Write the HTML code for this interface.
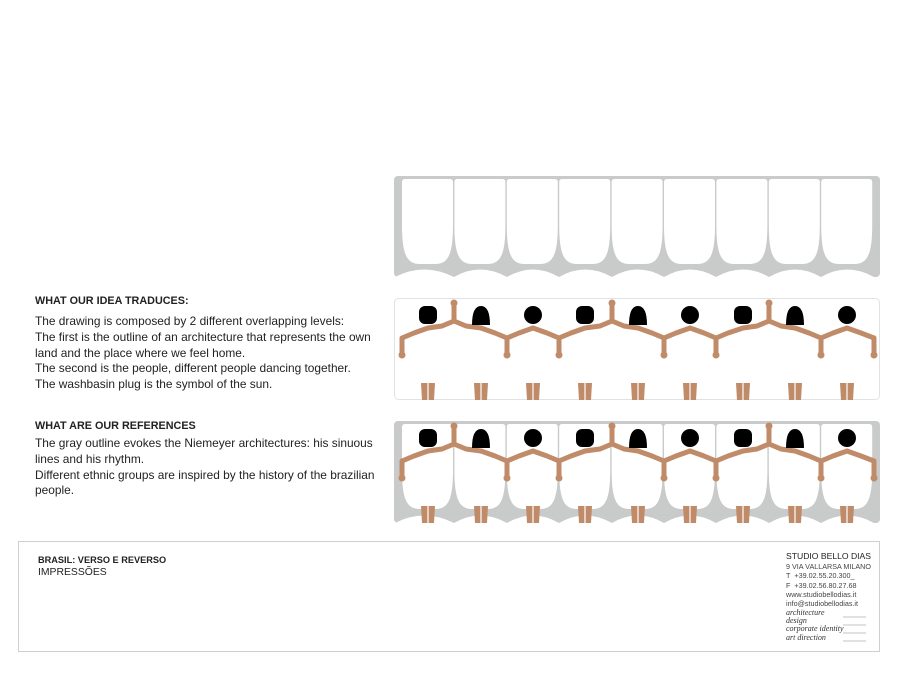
<!DOCTYPE html>
<html><head><meta charset="utf-8"><style>
body{margin:0;width:908px;height:680px;background:#fff;position:relative;overflow:hidden;font-family:"Liberation Sans",sans-serif;color:#222}
.t{position:absolute;left:35px;font-size:11.9px;line-height:15.8px;white-space:nowrap}
.h{font-weight:bold;font-size:10.8px}
svg{position:absolute;left:0;top:0}
</style></head><body>
<svg width="908" height="680" viewBox="0 0 908 680">
<defs>
<path id="cell" d="M0,3 Q0,0 3,0 H48 Q51,0 51,3 V46 C51,76 46,85 33,85 H18 C5,85 0,76 0,46 Z" fill="#fff"/>
<g id="cells">
<use href="#cell" x="402"/><use href="#cell" x="454.4"/><use href="#cell" x="506.8"/><use href="#cell" x="559.2"/><use href="#cell" x="611.6"/><use href="#cell" x="664"/><use href="#cell" x="716.4"/><use href="#cell" x="768.8"/><use href="#cell" x="821.2"/>
</g>
<path id="scal" fill="#fff" d="M395,101 Q424,86 454,101 Q480,86 507,101 Q533,86 559,101 Q585,86 612,101 Q638,86 664,101 Q690,86 716,101 Q743,86 769,101 Q795,86 821,101 Q847,86 874,101 Z"/>
<g id="figs">
<g fill="none" stroke="#c08b69" stroke-width="5" stroke-linejoin="round" stroke-linecap="round">
<path d="M428,328 L414,333 L402,338 V354"/>
<path d="M428,328 L442,326 L454,321 L466,326 L481,328 M454,321 V304"/>
<path d="M481,328 L495,333 L507,338 L519,333 L533,328 M507,338 V354"/>
<path d="M533,328 L547,333 L559,338 L571,333 L585,328 M559,338 V354"/>
<path d="M585,328 L600,326 L612,321 L624,326 L638,328 M612,321 V304"/>
<path d="M638,328 L652,333 L664,338 L676,333 L690,328 M664,338 V354"/>
<path d="M690,328 L704,333 L716,338 L728,333 L743,328 M716,338 V354"/>
<path d="M743,328 L757,326 L769,321 L781,326 L795,328 M769,321 V304"/>
<path d="M795,328 L809,333 L821,338 L833,333 L847,328 M821,338 V354"/>
<path d="M847,328 L861,333 L874,338 V354"/>
</g>
<g fill="#c08b69">
<circle cx="402" cy="355" r="3.5"/><circle cx="454" cy="303" r="3.5"/><circle cx="507" cy="355" r="3.5"/><circle cx="559" cy="355" r="3.5"/><circle cx="612" cy="303" r="3.5"/><circle cx="664" cy="355" r="3.5"/><circle cx="716" cy="355" r="3.5"/><circle cx="769" cy="303" r="3.5"/><circle cx="821" cy="355" r="3.5"/><circle cx="874" cy="355" r="3.5"/>
<path d="M421,383 h14 l-1,17 h-12 z M474,383 h14 l-1,17 h-12 z M526,383 h14 l-1,17 h-12 z M578,383 h14 l-1,17 h-12 z M631,383 h14 l-1,17 h-12 z M683,383 h14 l-1,17 h-12 z M736,383 h14 l-1,17 h-12 z M788,383 h14 l-1,17 h-12 z M840,383 h14 l-1,17 h-12 z"/>
</g>
<g stroke="#fff" stroke-width="1.2">
<path d="M428,383V400 M481,383V400 M533,383V400 M585,383V400 M638,383V400 M690,383V400 M743,383V400 M795,383V400 M847,383V400"/>
</g>
<g fill="#000">
<rect x="419" y="306" width="18" height="18" rx="6"/>
<path d="M472,325 Q472,306 481,306 Q490,306 490,325 Z"/>
<circle cx="533" cy="315" r="9"/>
<rect x="576" y="306" width="18" height="18" rx="6"/>
<path d="M629,325 Q629,306 638,306 Q647,306 647,325 Z"/>
<circle cx="690" cy="315" r="9"/>
<rect x="734" y="306" width="18" height="18" rx="6"/>
<path d="M786,325 Q786,306 795,306 Q804,306 804,325 Z"/>
<circle cx="847" cy="315" r="9"/>
</g>
</g>
</defs>
<rect x="394" y="176" width="486" height="101" rx="4" fill="#c8cbca"/>
<use href="#cells" y="179"/>
<use href="#scal" y="176"/>
<rect x="394.5" y="298.5" width="485" height="101" rx="4" fill="#fff" stroke="#e2e2e2"/>
<use href="#figs"/>
<rect x="394" y="421" width="486" height="102" rx="4" fill="#c8cbca"/>
<use href="#cells" y="424"/>
<use href="#scal" y="422"/>
<use href="#figs" y="123"/>
<rect x="18.5" y="541.5" width="861" height="110" fill="#fff" stroke="#cfcfcf"/>
<g stroke="#888" stroke-width="0.6">
<line x1="843" y1="617" x2="866" y2="617"/><line x1="843" y1="625" x2="866" y2="625"/><line x1="843" y1="633" x2="866" y2="633"/><line x1="843" y1="641" x2="866" y2="641"/>
</g>
</svg>
<div class="t h" style="top:294px">WHAT OUR IDEA TRADUCES:</div>
<div class="t" style="top:314px">The drawing is composed by 2 different overlapping levels:<br>The first is the outline of an architecture that represents the own<br>land and the place where we feel home.<br>The second is the people, different people dancing together.<br>The washbasin plug is the symbol of the sun.</div>
<div class="t h" style="top:419px">WHAT ARE OUR REFERENCES</div>
<div class="t" style="top:436px">The gray outline evokes the Niemeyer architectures: his sinuous<br>lines and his rhythm.<br>Different ethnic groups are inspired by the history of the brazilian<br>people.</div>
<div class="t h" style="top:553px;left:38px;font-size:9.2px">BRASIL: VERSO E REVERSO</div>
<div class="t" style="top:565px;left:38px;font-size:10.4px">IMPRESSÕES</div>
<div style="position:absolute;left:786px;top:551px;font-size:8.6px;line-height:11px;white-space:nowrap">STUDIO BELLO DIAS</div>
<div style="position:absolute;left:786px;top:562px;font-size:7.2px;line-height:9.3px;color:#444;white-space:nowrap">9 VIA VALLARSA MILANO<br>T&nbsp; +39.02.55.20.300_<br>F&nbsp; +39.02.56.80.27.68<br>www.studiobellodias.it<br>info@studiobellodias.it</div>
<div style="position:absolute;left:786px;top:609px;font-family:'Liberation Serif',serif;font-style:italic;font-size:8px;line-height:8.2px;color:#333;white-space:nowrap">architecture<br>design<br>corporate identity<br>art direction</div>
</body></html>
